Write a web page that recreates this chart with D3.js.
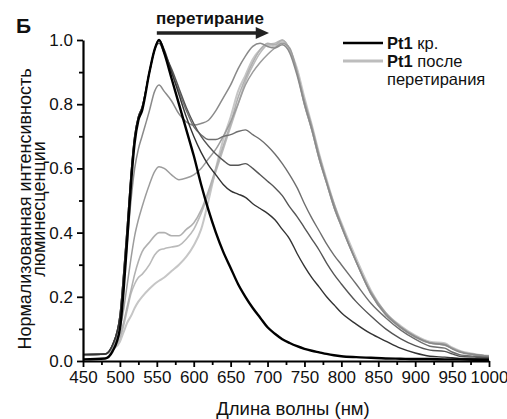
<!DOCTYPE html>
<html>
<head>
<meta charset="utf-8">
<script src="https://cdn.jsdelivr.net/npm/d3@7"></script>
<style>
  body { margin: 0; background: #fff; }
  text { font-family: "Liberation Sans", Arial, sans-serif; fill: #111; }
</style>
</head>
<body>
<div id="chart"></div>
<script>

// wavelength grid (nm)
const wl = [450,480,490,500,505,510,515,520,525,530,540,547,553,560,570,580,590,600,610,620,630,640,650,660,670,680,690,700,710,720,730,740,750,760,770,780,790,800,820,840,860,880,900,920,940,950,960,980,1000];

// Pt1 кр. (initial)
const pt1Initial = [.005,.008,.03,.10,.22,.38,.55,.68,.75,.78,.90,.97,1.0,.96,.88,.80,.72,.64,.55,.47,.40,.34,.29,.24,.20,.165,.135,.105,.085,.068,.056,.046,.038,.032,.027,.022,.018,.015,.012,.010,.008,.007,.006,.006,.005,.005,.005,.004,.004];

// intermediate spectra
const tailLow = [.02,.022,.05,.14,.27,.42,.58,.70,.76,.79,.90,.97,1.0,.97,.90,.83,.76,.70,.65,.61,.58,.55,.53,.52,.51,.49,.475,.46,.44,.41,.38,.335,.295,.26,.23,.20,.175,.15,.115,.085,.062,.04,.025,.015,.012,.01,.008,.007,.006];
const tailMid = [.02,.022,.05,.14,.27,.42,.58,.70,.76,.79,.90,.97,.99,.96,.91,.85,.79,.74,.70,.67,.645,.625,.61,.61,.615,.60,.58,.56,.54,.515,.48,.45,.415,.38,.345,.305,.27,.24,.185,.14,.10,.07,.048,.034,.03,.022,.015,.012,.01];
const tailHigh = [.02,.022,.05,.14,.27,.42,.58,.70,.76,.79,.90,.97,1.0,.96,.90,.84,.78,.73,.705,.69,.69,.70,.705,.715,.72,.705,.69,.67,.645,.615,.58,.54,.49,.445,.405,.365,.33,.30,.24,.18,.135,.097,.068,.046,.04,.028,.02,.015,.012];
const mix86 = [.02,.022,.05,.13,.24,.37,.50,.60,.66,.70,.78,.84,.86,.84,.81,.77,.745,.735,.74,.75,.78,.82,.86,.91,.95,.98,.99,.98,.975,.985,.96,.89,.80,.72,.63,.555,.48,.42,.31,.21,.145,.105,.075,.056,.05,.038,.028,.02,.015];
const mix61 = [.02,.022,.045,.10,.16,.24,.32,.39,.44,.48,.55,.59,.605,.60,.58,.565,.57,.58,.60,.63,.66,.70,.745,.80,.86,.90,.93,.955,.975,.99,.975,.90,.81,.73,.64,.56,.49,.425,.31,.215,.15,.107,.077,.057,.052,.04,.03,.02,.015];

// Pt1 после перетирания
const rubbedA = [.02,.022,.04,.08,.12,.17,.22,.27,.31,.34,.37,.39,.40,.40,.39,.39,.41,.43,.47,.53,.60,.67,.74,.82,.88,.93,.97,.99,.985,1.0,.97,.90,.80,.72,.63,.555,.48,.42,.31,.21,.145,.105,.075,.056,.05,.04,.03,.02,.015];
const rubbedB = [.02,.022,.035,.07,.11,.16,.21,.24,.26,.27,.30,.33,.345,.35,.355,.36,.38,.41,.46,.52,.59,.66,.73,.80,.87,.92,.96,.985,.99,1.0,.97,.90,.80,.72,.63,.555,.48,.42,.31,.21,.145,.105,.075,.056,.05,.04,.03,.02,.015];
const rubbedC = [.02,.022,.035,.06,.09,.12,.14,.165,.185,.20,.225,.24,.25,.26,.28,.30,.325,.36,.41,.50,.60,.69,.76,.84,.89,.94,.97,.985,.98,.995,.97,.91,.82,.735,.645,.565,.49,.43,.32,.22,.15,.11,.08,.06,.055,.042,.032,.022,.016];

const xTicks = [450,500,550,600,650,700,750,800,850,900,950,1000];
const yTicks = [0,0.2,0.4,0.6,0.8,1.0];

let width = 507, height = 419;

let x = d3.scaleLinear().domain([450, 1000]).range([83, 489]);
let y = d3.scaleLinear().domain([0, 1]).range([361, 40]);

let svg = d3.select("#chart")
  .append("svg")
  .attr("width", width)
  .attr("height", height);

svg.append("rect").attr("width", width).attr("height", height).attr("fill", "#fff");

// spectra, lightest first so the initial one is on top
let series = [
  { v: rubbedC, c: "#c6c6c6", w: 2 },
  { v: rubbedB, c: "#bababa", w: 1.6 },
  { v: rubbedA, c: "#b0b0b0", w: 1.6 },
  { v: mix61, c: "#9c9c9c", w: 1.5 },
  { v: mix86, c: "#8a8a8a", w: 1.5 },
  { v: tailHigh, c: "#6e6e6e", w: 1.4 },
  { v: tailMid, c: "#555", w: 1.4 },
  { v: tailLow, c: "#333", w: 1.4 },
  { v: pt1Initial, c: "#000", w: 2.4 }
];

let line = d3.line()
  .x((d, i) => x(wl[i]))
  .y(d => y(d))
  .curve(d3.curveMonotoneX);

svg.selectAll("path.spec")
  .data(series)
  .enter()
  .append("path")
  .attr("class", "spec")
  .attr("fill", "none")
  .attr("stroke", d => d.c)
  .attr("stroke-width", d => d.w)
  .attr("stroke-linejoin", "round")
  .attr("d", d => line(d.v));

// x axis
svg.append("g")
  .attr("transform", "translate(0," + y(0) + ")")
  .call(d3.axisBottom(x).tickValues(xTicks).tickSize(6).tickSizeOuter(0).tickPadding(4).tickFormat(d3.format("d")));
svg.append("g")
  .attr("transform", "translate(0," + y(0) + ")")
  .call(d3.axisBottom(x).tickValues(xTicks.slice(0, -1).map(t => t + 25)).tickSize(4).tickSizeOuter(0).tickFormat(""))
  .select(".domain").remove();

// y axis
svg.append("g")
  .attr("transform", "translate(" + x(450) + ",0)")
  .call(d3.axisLeft(y).tickValues(yTicks).tickSize(6).tickSizeOuter(0).tickPadding(4).tickFormat(d3.format(".1f")));
svg.append("g")
  .attr("transform", "translate(" + x(450) + ",0)")
  .call(d3.axisLeft(y).tickValues([0.1,0.3,0.5,0.7,0.9]).tickSize(4).tickSizeOuter(0).tickFormat(""))
  .select(".domain").remove();

svg.selectAll(".domain").attr("stroke", "#000").attr("stroke-width", 2.2);
svg.selectAll(".tick line").attr("stroke", "#000").attr("stroke-width", 1.8);
svg.selectAll(".tick text")
  .style("font-family", '"Liberation Sans", Arial, sans-serif')
  .style("font-size", "17px")
  .attr("fill", "#111");

// axis titles
svg.append("text")
  .attr("x", 293)
  .attr("y", 415)
  .style("text-anchor", "middle")
  .style("font-size", "18.5px")
  .text("Длина волны (нм)");

let yLab = svg.append("text")
  .attr("transform", "translate(31,209) rotate(-90)")
  .style("text-anchor", "middle")
  .style("font-size", "18px");
yLab.append("tspan").attr("x", 0).attr("y", 0).text("Нормализованная интенсивность");
yLab.append("tspan").attr("x", 0).attr("y", 14).text("люминесценции");

// panel letter
svg.append("text")
  .attr("x", 16)
  .attr("y", 33)
  .style("font-size", "21px")
  .style("font-weight", "bold")
  .text("Б");

// arrow "перетирание"
svg.append("text")
  .attr("x", x(622))
  .attr("y", 24)
  .style("text-anchor", "middle")
  .style("font-size", "17px")
  .style("font-weight", "bold")
  .text("перетирание");
svg.append("line")
  .attr("x1", x(550)).attr("x2", x(690))
  .attr("y1", 33).attr("y2", 33)
  .attr("stroke", "#222").attr("stroke-width", 3.5);
svg.append("path")
  .attr("d", "M" + x(684) + ",27 L" + x(702) + ",33 L" + x(684) + ",39 Z")
  .attr("fill", "#222");

// legend
let legend = [
  { c: "#000", w: 2.6, b: "Pt1", t: [" кр."] },
  { c: "#bdbdbd", w: 3, b: "Pt1", t: [" после", "перетирания"] }
];
legend.forEach(function (d, i) {
  let ly = 43 + i * 18;
  svg.append("line")
    .attr("x1", 343).attr("x2", 383)
    .attr("y1", ly).attr("y2", ly)
    .attr("stroke", d.c).attr("stroke-width", d.w);
  let t = svg.append("text")
    .attr("x", 387)
    .attr("y", ly + 6)
    .style("font-size", "16.5px");
  t.append("tspan").style("font-weight", "bold").text(d.b);
  t.append("tspan").text(d.t[0]);
  if (d.t[1]) {
    svg.append("text")
      .attr("x", 387)
      .attr("y", ly + 24)
      .style("font-size", "16.5px")
      .text(d.t[1]);
  }
});

</script>
</body>
</html>
